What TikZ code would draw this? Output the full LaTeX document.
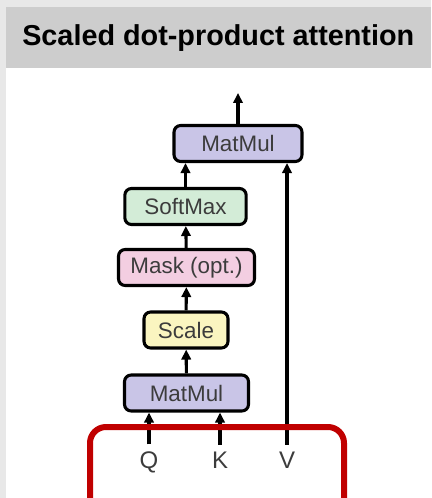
\documentclass[tikz,border=0pt]{standalone}
\usepackage{fontspec}
\setmainfont{Liberation Sans}
\usepackage{xcolor}
\usepackage{tikz}
\usetikzlibrary{arrows.meta, positioning}
\definecolor{bandgray}{RGB}{205,205,205}
\definecolor{pagegray}{RGB}{232,232,232}
\definecolor{matmulblue}{RGB}{201,197,231}
\definecolor{softgreen}{RGB}{211,236,215}
\definecolor{maskpink}{RGB}{243,206,225}
\definecolor{scaleyellow}{RGB}{250,245,192}
\definecolor{markred}{RGB}{192,0,0}
\definecolor{textgray}{RGB}{60,60,60}

\begin{document}
\begin{tikzpicture}[x=0.75pt, y=-0.75pt,
    block/.style={draw=black, line width=2.3pt, rounded corners=5pt, inner sep=0pt,
        minimum height=27pt, font=\fontsize{16.8}{18}\selectfont, text=textgray},
    flow/.style={line width=2.3pt, -{Triangle[length=7.5pt, width=7pt]}},
    inp/.style={font=\fontsize{18}{20}\selectfont, text=textgray, anchor=base, inner sep=5pt}]
    % Background
    \clip (0,0) rectangle (431,498);
    \fill[pagegray] (0,0) rectangle (431,498);
    \fill[white] (6,7) rectangle (431,498);
    \fill[bandgray] (6,7) rectangle (431,68);

    % Title
    \node[anchor=base west, inner sep=0pt, font=\bfseries\fontsize{21.6}{24}\selectfont] (title) at (22,46) {Scaled dot-product attention};

    % Blocks
    \node[block, fill=matmulblue, minimum width=96pt] (mmtop) at (238,143.5) {MatMul};
    \node[block, fill=softgreen, minimum width=91pt] (soft) at (185.5,206.5) {SoftMax};
    \node[block, fill=maskpink, minimum width=102pt] (mask) at (186.5,267.5) {Mask (opt.)};
    \node[block, fill=scaleyellow, minimum width=63pt] (scale) at (186,330) {Scale};
    \node[block, fill=matmulblue, minimum width=93pt] (mmbot) at (186.5,393) {MatMul};

    % Inputs
    \node[inp] (q) at (149,468) {Q};
    \node[inp] (k) at (220,468) {K};
    \node[inp] (v) at (287,468) {V};
    \coordinate (out) at (238,93);

    % Arrows
    \draw[flow] (q.north) -- (q.north |- mmbot.south);
    \draw[flow] (k.north) -- (k.north |- mmbot.south);
    \draw[flow] (v.north) -- (v.north |- mmtop.south);
    \draw[flow] (mmbot) -- (scale);
    \draw[flow] (scale) -- (mask);
    \draw[flow] (mask) -- (soft);
    \draw[flow] (soft.north) -- (soft.north |- mmtop.south);
    \draw[flow] (mmtop) -- (out);

    % Highlight
    \draw[markred, line width=4.5pt, rounded corners=12pt] (90,427) rectangle (344,540);
\end{tikzpicture}
\end{document}
